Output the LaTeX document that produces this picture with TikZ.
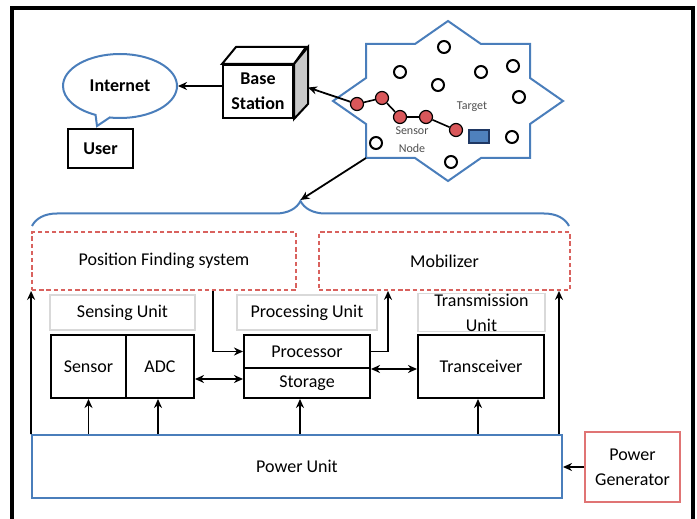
\documentclass[tikz,border=0pt]{standalone}
\usepackage{fontspec}
\setmainfont{Carlito}
\usetikzlibrary{arrows.meta,positioning,calc,shapes.callouts,decorations.pathreplacing}
\definecolor{starblue}{HTML}{4A7EBB}
\definecolor{dashred}{HTML}{D9625E}
\definecolor{genred}{HTML}{E07474}
\definecolor{hopred}{HTML}{D9575A}
\definecolor{tblue}{HTML}{4F81BD}
\definecolor{navy}{HTML}{1F3864}
\definecolor{lgray}{HTML}{D9D9D9}
\definecolor{sidegray}{HTML}{C8C8C8}
\definecolor{dimtext}{HTML}{505050}

\begin{document}
\begin{tikzpicture}[x=0.5pt,y=-0.5pt,
  every node/.style={font=\fontsize{9}{12.5}\selectfont,inner sep=0pt},
  blk/.style={draw,line width=1pt},
  tag/.style={draw=lgray,line width=0.6pt},
  dbox/.style={draw=dashred,dash pattern=on 2.2pt off 1.4pt,line width=0.9pt},
  arr/.style={-{Stealth[length=4.5pt,width=4pt]},line width=0.9pt},
  darr/.style={{Stealth[length=4.5pt,width=4pt]}-{Stealth[length=4.5pt,width=4pt]},line width=0.9pt},
  hole/.style={circle,draw,line width=1pt,fill=white,minimum size=6pt},
  hop/.style={circle,draw,line width=0.6pt,fill=hopred,minimum size=6.5pt},
  small/.style={font=\fontsize{6}{7}\selectfont,text=dimtext}]
  \useasboundingbox (0,0) rectangle (697,519);
  \draw[line width=1.8pt] (12,530) -- (12,8) -- (693,8) -- (693,530);

  % top: internet, user, base station
  \node[ellipse callout,draw=starblue,line width=1pt,minimum width=57pt,minimum height=32pt,
        callout absolute pointer={(97,126)},font=\bfseries\fontsize{9}{12}\selectfont] (internet) at (120,86) {Internet};
  \node[blk,minimum width=32.5pt,minimum height=19.5pt,font=\bfseries\fontsize{9}{12}\selectfont] (user) at (100.5,148.5) {User};
  \node[blk,fill=white,minimum width=35pt,minimum height=26.5pt,align=center,
        font=\bfseries\fontsize{9}{12.5}\selectfont] (base) at (258,91.5) {Base\\Station};
  \draw[line width=1pt,fill=white] (base.north west) -- ++(14,-17) -- ++(70,0) -- (base.north east) -- cycle;
  \draw[line width=1pt,fill=sidegray] (base.north east) -- ++(14,-17) -- ++(0,57) -- (base.south east) -- cycle;
  \coordinate (baseside) at ($(base.east)+(14,-4)$);
  \draw[arr] (base.west |- internet.east) -- (internet.east);

  % sensor field
  \draw[starblue,line width=1pt,fill=white,shift={(448,101)}]
    (0,-80) -- (-33,-57) -- (-82,-57) -- (-82,-23) -- (-115,0) -- (-82,23) -- (-82,57) -- (-33,57)
    -- (0,80) -- (33,57) -- (82,57) -- (82,23) -- (115,0) -- (82,-23) -- (82,-57) -- (33,-57) -- cycle;
  \coordinate (fieldcorner) at (366,158);
  \foreach \p [count=\i] in {(444,47),(400,72),(438,85),(481,72),(513,66),(519,97),(512,137),(451,162),(376,143)}
    \node[hole] (s\i) at \p {};
  \foreach \p [count=\i] in {(357,104),(382,98),(400,117),(426,117),(456,130)}
    \node[hop] (h\i) at \p {};
  \draw[line width=0.8pt] (h1) -- (h2) -- (h3) -- (h4) -- (h5);
  \node[draw=navy,fill=tblue,line width=0.8pt,minimum width=10pt,minimum height=6.5pt] (target) at (479,136.5) {};
  \node[small] (targetlbl) at (472,107) {Target};
  \node[small,align=center,font=\fontsize{6}{9}\selectfont] (hoplbl) at (412,140) {Sensor\\Node};
  \draw[arr] (h1) -- (baseside);

  % brace over the node
  \draw[starblue,line width=1pt,decorate,decoration={brace,amplitude=12.5pt}] (32,226) -- (569,226);
  \coordinate (bracetip) at (300.5,200);
  \draw[arr] (fieldcorner) -- (bracetip);

  % units
  \node[dbox,minimum width=132pt,minimum height=29pt] (pfs) at (164,261) {Position Finding system};
  \node[dbox,minimum width=125.5pt,minimum height=29pt] (mob) at (444.5,261) {Mobilizer};
  \node[tag,minimum width=72.5pt,minimum height=17.5pt] (sensing) at (122.5,312.5) {Sensing Unit};
  \node[tag,minimum width=70pt,minimum height=17.5pt] (processing) at (307,312.5) {Processing Unit};
  \node[tag,minimum width=63.5pt,minimum height=17.5pt,align=center] (transmission) at (481.5,312.5) {Transmission\\Unit};
  \node[blk,minimum width=37.5pt,minimum height=31.5pt] (sensor) at (88.5,366.5) {Sensor};
  \node[blk,minimum width=34pt,minimum height=31.5pt] (adc) at (160,366.5) {ADC};
  \node[blk,minimum width=63pt,minimum height=16.5pt] (processor) at (307,351.5) {Processor};
  \node[blk,minimum width=63pt,minimum height=15pt] (storage) at (307,383) {Storage};
  \node[blk,minimum width=63pt,minimum height=31.5pt] (transceiver) at (481,366.5) {Transceiver};
  \node[draw=starblue,line width=1pt,minimum width=265pt,minimum height=31.5pt] (power) at (297,466.5) {Power Unit};
  \node[draw=genred,line width=1.2pt,minimum width=47.5pt,minimum height=35pt,align=center] (gen) at (632.5,467) {Power\\Generator};

  % power lines
  \draw[arr] (sensor.south |- power.north) -- (sensor.south);
  \draw[arr] ([xshift=-1pt]adc.south |- power.north) -- ([xshift=-1pt]adc.south);
  \draw[arr] ([xshift=-3.5pt]storage.south |- power.north) -- ([xshift=-3.5pt]storage.south);
  \draw[arr] ([xshift=-1.5pt]transceiver.south |- power.north) -- ([xshift=-1.5pt]transceiver.south);
  \draw[arr] (power.north west) -- (pfs.south west);
  \draw[arr] ([xshift=-2pt]power.north east) -- ([xshift=-2pt]power.north east |- mob.south);
  \draw[arr] (gen.west) -- (power.east |- gen.west);

  % data lines
  \draw[arr] ([xshift=24.5pt]pfs.south) |- (processor.west);
  \draw[arr] (processor.east) -| ([xshift=-28.25pt]mob.south);
  \draw[darr] ($(adc.east |- storage.west)+(0,-4)$) -- ($(storage.west)+(0,-4)$);
  \draw[darr] (processor.south east) -- (transceiver.west |- processor.south east);
\end{tikzpicture}
\end{document}
